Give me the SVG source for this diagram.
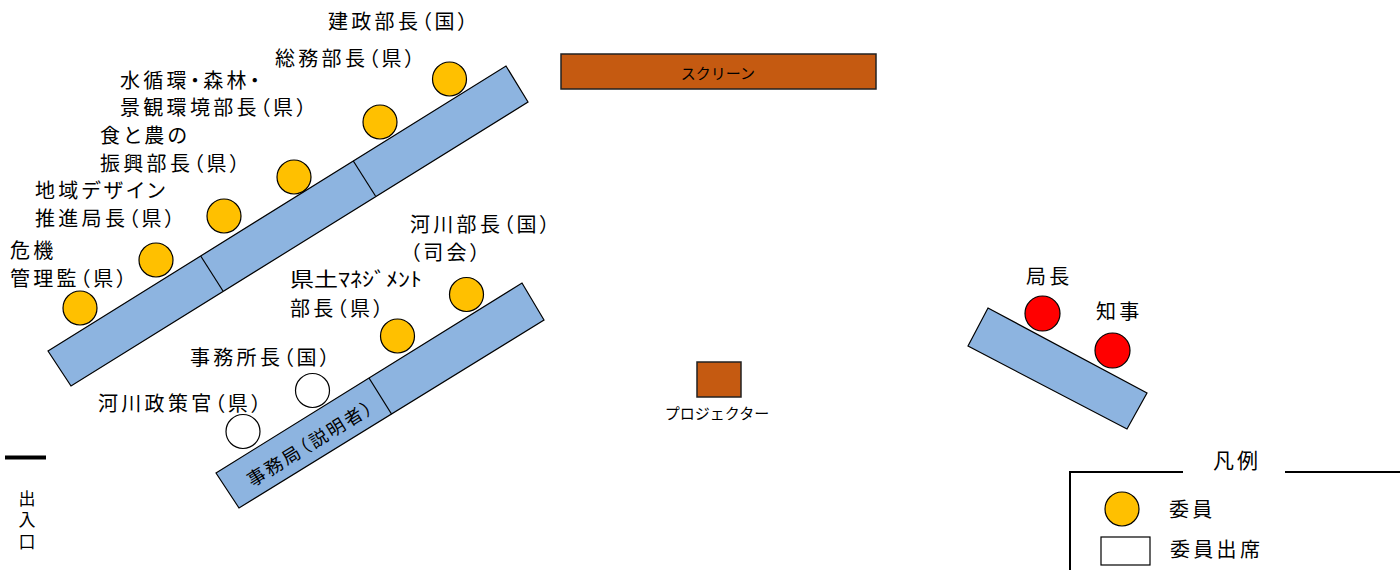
<svg xmlns="http://www.w3.org/2000/svg" width="1400" height="570" viewBox="0 0 1400 570">
<style>
text{font-family:"Noto Sans CJK JP","Noto Sans CJK SC",sans-serif;fill:#000;font-feature-settings:"palt"}
.lbl{font-size:20px;letter-spacing:3.3px}
.tbl{fill:#8DB4E0;stroke:#000;stroke-width:1.2}
.div{stroke:#000;stroke-width:1.2}
.mem{fill:#FFC000;stroke:#000;stroke-width:1.2}
.att{fill:#fff;stroke:#000;stroke-width:1.2}
.top{fill:#FF0000;stroke:#000;stroke-width:1.2}
.eq{fill:#C55A11;stroke:#222;stroke-width:1.5}
.small{font-size:15px;font-feature-settings:normal}
</style>
<rect width="1400" height="570" fill="#fff"/>

<g id="table-left">
<polygon class="tbl" points="48,351 506,66 528,102 71,386"/>
<line class="div" x1="200.7" y1="256" x2="223" y2="291"/>
<line class="div" x1="353.3" y1="161" x2="375.5" y2="196"/>
</g>

<g id="table-secretariat">
<polygon class="tbl" points="216,473 522,283 544,320 239,508"/>
<line class="div" x1="369" y1="378" x2="391.5" y2="414"/>
<text transform="translate(310,442) rotate(-31.9)" text-anchor="middle" dominant-baseline="central" style="font-size:18px;letter-spacing:2.5px">事務局（説明者）</text>
</g>

<g id="table-right">
<polygon class="tbl" points="988,308 1147,393 1127,429 968,346"/>
</g>

<g id="screen">
<rect class="eq" x="561" y="54" width="315" height="35"/>
<text class="small" x="718" y="79" text-anchor="middle">スクリーン</text>
</g>

<g id="projector">
<rect class="eq" x="697" y="362" width="44" height="35"/>
<text class="small" x="717" y="419" text-anchor="middle">プロジェクター</text>
</g>

<g id="m-kensei">
<circle class="mem" cx="449.5" cy="79" r="17"/>
<text class="lbl" x="328" y="29">建政部長（国）</text>
</g>
<g id="m-somu">
<circle class="mem" cx="380" cy="122" r="17"/>
<text class="lbl" x="275" y="66">総務部長（県）</text>
</g>
<g id="m-mizu">
<circle class="mem" cx="294" cy="177" r="17"/>
<text class="lbl" x="120" y="88">水循環・森林・</text>
<text class="lbl" x="120" y="115">景観環境部長（県）</text>
</g>
<g id="m-shoku">
<circle class="mem" cx="224" cy="216" r="17"/>
<text class="lbl" x="100" y="143">食と農の</text>
<text class="lbl" x="100" y="171">振興部長（県）</text>
</g>
<g id="m-chiiki">
<circle class="mem" cx="156" cy="260" r="17"/>
<text class="lbl" x="35" y="198">地域デザイン</text>
<text class="lbl" x="35" y="226">推進局長（県）</text>
</g>
<g id="m-kiki">
<circle class="mem" cx="80" cy="308" r="17"/>
<text class="lbl" x="10" y="258">危機</text>
<text class="lbl" x="10" y="286">管理監（県）</text>
</g>
<g id="m-kasen">
<circle class="mem" cx="466.5" cy="294.5" r="17"/>
<text class="lbl" x="410" y="232">河川部長（国）</text>
<text class="lbl" x="410" y="260">（司会）</text>
</g>
<g id="m-kendo">
<circle class="mem" cx="397.5" cy="336" r="17"/>
<text class="lbl" x="290" y="287" style="letter-spacing:0" textLength="132" lengthAdjust="spacingAndGlyphs">県土ﾏﾈｼﾞﾒﾝﾄ</text>
<text class="lbl" x="290" y="316">部長（県）</text>
</g>
<g id="m-jimusho">
<circle class="att" cx="312.5" cy="390.5" r="17"/>
<text class="lbl" x="190" y="365">事務所長（国）</text>
</g>
<g id="m-seisaku">
<circle class="att" cx="243" cy="431.5" r="17"/>
<text class="lbl" x="98" y="411">河川政策官（県）</text>
</g>
<g id="m-kyokucho">
<circle class="top" cx="1042.5" cy="313.5" r="17.5"/>
<text class="lbl" x="1026" y="284">局長</text>
</g>
<g id="m-chiji">
<circle class="top" cx="1112.5" cy="350.5" r="17.5"/>
<text class="lbl" x="1096" y="319">知事</text>
</g>

<g id="entrance">
<line x1="5" y1="457.5" x2="46" y2="457.5" stroke="#000" stroke-width="4"/>
<text x="27" y="490" writing-mode="vertical-rl" style="font-size:17px;letter-spacing:4.5px">出入口</text>
</g>

<g id="legend">
<polyline points="1183,472 1070,472 1070,570" fill="none" stroke="#000" stroke-width="2"/>
<line x1="1285" y1="472" x2="1400" y2="472" stroke="#000" stroke-width="2"/>
<text x="1213" y="468" style="font-size:21px;letter-spacing:3px">凡例</text>
<circle class="mem" cx="1122" cy="509" r="17"/>
<text class="lbl" x="1169" y="517">委員</text>
<rect class="att" x="1101" y="537" width="49" height="28"/>
<text class="lbl" x="1170" y="557">委員出席</text>
</g>
</svg>
